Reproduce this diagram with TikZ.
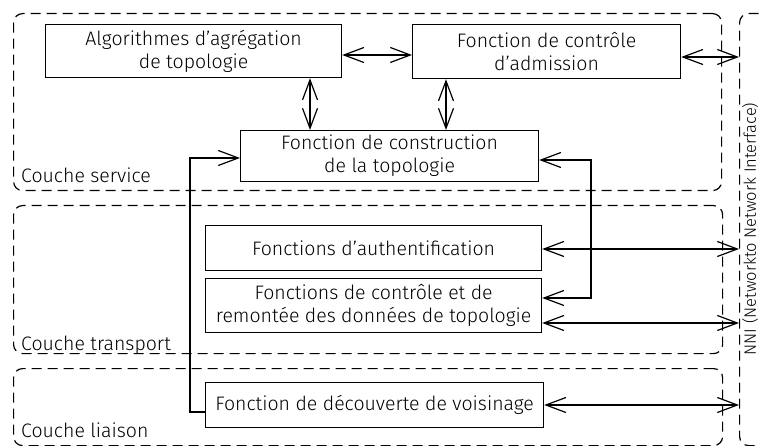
\documentclass[tikz,border=0pt]{standalone}
\usepackage{fontspec}
\setmainfont{Fira Sans}[UprightFont=* Light]
\usetikzlibrary{arrows.meta}
\begin{document}
\begin{tikzpicture}[x=1pt,y=-1pt,font=\fontsize{19.5}{23}\selectfont]
\tikzset{
 box/.style={draw, line width=1.2pt, align=center, inner sep=0pt, anchor=north west},
 layer/.style={draw, dash pattern=on 10pt off 6pt, line width=1.2pt, rounded corners=9pt, anchor=north west, inner sep=0pt},
 conn/.style={line width=1.2pt, {Straight Barb[length=20pt,width=15pt]}-{Straight Barb[length=20pt,width=15pt]}},
 conn1/.style={line width=1.2pt, -{Straight Barb[length=20pt,width=15pt]}},
 lbl/.style={anchor=west, inner sep=0pt}
}
\useasboundingbox (0,0) rectangle (760,446);
\clip (0,0) rectangle (760,446);
% layers
\node[layer, minimum width=708pt, minimum height=177pt] (service) at (13,13) {};
\node[layer, minimum width=709pt, minimum height=148pt] (transport) at (13,205) {};
\node[layer, minimum width=709pt, minimum height=77pt] (liaison) at (13,368) {};
\node[layer, minimum width=60pt, minimum height=432pt] (nni) at (739,13) {};
\node[lbl] (ls) at (21,175) {Couche service};
\node[lbl] (lt) at (21,345) {Couche transport};
\node[lbl] (ll) at (21,430) {Couche liaison};
\node[rotate=90, inner sep=0pt, font=\fontsize{16.5}{20}\selectfont] (nnil) at (750,229) {NNI (Networkto Network Interface)};
% boxes
\node[box, minimum width=296pt, minimum height=53pt] (algo) at (45,24) {Algorithmes d’agrégation\\de topologie};
\node[box, minimum width=268pt, minimum height=54pt] (adm) at (412,24) {Fonction de contrôle\\d’admission};
\node[box, minimum width=298pt, minimum height=51pt] (cons) at (240,130) {Fonction de construction\\de la topologie};
\node[box, minimum width=336pt, minimum height=45pt] (auth) at (205,225) {Fonctions d’authentification};
\node[box, minimum width=336pt, minimum height=54pt] (ctrl) at (205,278) {Fonctions de contrôle et de\\remontée des données de topologie};
\node[box, minimum width=338pt, minimum height=45pt] (dec) at (205,382) {Fonction de découverte de voisinage};
% helper coordinates
\coordinate (ya) at (0,55);
\coordinate (yb) at (0,57);
\coordinate (v1) at (310,0);
\coordinate (v2) at (446,0);
\coordinate (L1) at (190,412);
\coordinate (L2) at (190,158);
\coordinate (R1) at (591,160);
\coordinate (R2) at (591,298);
\coordinate (yc) at (0,249);
\coordinate (yd) at (0,323);
\coordinate (ye) at (0,405);
% connectors
\draw[conn] (algo.east |- ya) -- (adm.west |- ya);
\draw[conn] (algo.south -| v1) -- (cons.north -| v1);
\draw[conn] (adm.south -| v2) -- (cons.north -| v2);
\draw[conn] (adm.east |- yb) -- (nni.west |- yb);
\draw[conn1] (dec.west |- L1) -- (L1) -- (L2) -- (cons.west |- L2);
\draw[conn] (cons.east |- R1) -- (R1) -- (R2) -- (ctrl.east |- R2);
\draw[conn] (auth.east |- yc) -- (nni.west |- yc);
\draw[conn] (ctrl.east |- yd) -- (nni.west |- yd);
\draw[conn] (dec.east |- ye) -- (nni.west |- ye);
\end{tikzpicture}
\end{document}
